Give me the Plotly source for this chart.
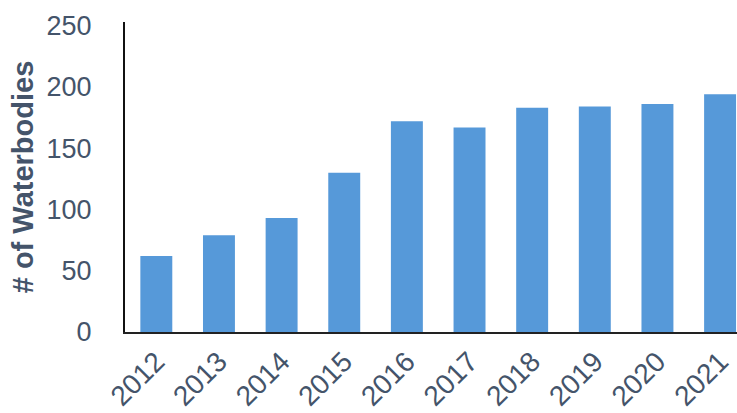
import plotly.graph_objects as go

years = ["2012", "2013", "2014", "2015", "2016", "2017", "2018", "2019", "2020", "2021"]
waterbodies = [62, 79, 93, 130, 172, 167, 183, 184, 186, 194]
y_ticks = [0, 50, 100, 150, 200, 250]

fig = go.Figure(
    go.Bar(
        x=years,
        y=waterbodies,
        marker=dict(color="#5699d9", line=dict(width=0)),
    )
)

font_color = "#44546a"
fig.update_layout(
    width=737,
    height=413,
    margin=dict(l=125, r=0, t=22, b=81),
    paper_bgcolor="white",
    plot_bgcolor="white",
    bargap=0.49,
    showlegend=False,
    font=dict(family="Liberation Sans, Arial, sans-serif", color=font_color),
)
fig.update_xaxes(
    type="category",
    range=[-0.5, 9.27],
    tickangle=-45,
    tickfont=dict(size=28, color=font_color),
    showline=True,
    linecolor="#222222",
    linewidth=2,
    ticks="",
    showgrid=False,
)
fig.update_yaxes(
    range=[0, 253],
    tickvals=y_ticks,
    tickfont=dict(size=27, color=font_color),
    showline=True,
    linecolor="#111111",
    linewidth=2,
    ticks="",
    ticklabelstandoff=26,
    showgrid=False,
    zeroline=False,
    title=dict(
        text="<b># of Waterbodies</b>",
        font=dict(size=29, color=font_color),
        standoff=4,
    ),
)

fig.write_html("out.html")
